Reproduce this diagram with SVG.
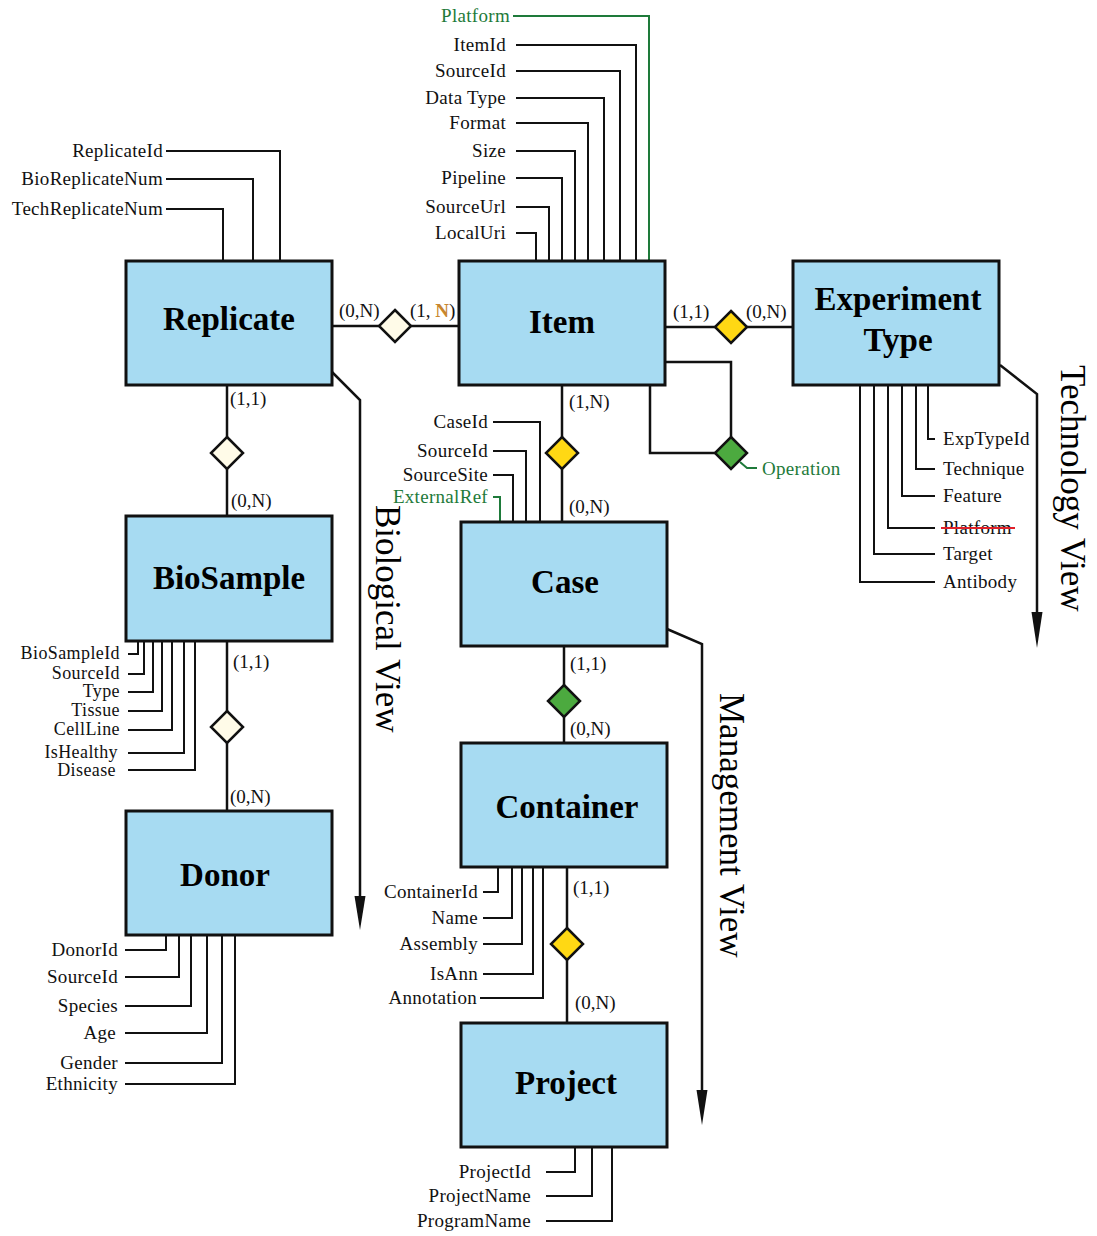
<svg xmlns="http://www.w3.org/2000/svg" width="1097" height="1236" viewBox="0 0 1097 1236">
  <style>
    .ent { fill: #A7DBF2; stroke: #111; stroke-width: 3; }
    .title { font-family: "Liberation Serif", "Times New Roman", serif; font-weight: bold; font-size: 33px; text-anchor: middle; fill: #000; }
    .attr { font-family: "Liberation Serif", "Times New Roman", serif; font-size: 19px; letter-spacing: 0.3px; fill: #111; }
    .tight { font-size: 18px; letter-spacing: 0.4px; }
    .r { text-anchor: end; }
    .card { font-family: "Liberation Serif", "Times New Roman", serif; font-size: 19px; fill: #111; }
    .view { font-family: "Liberation Serif", "Times New Roman", serif; font-size: 35px; fill: #000; }
    .green { fill: #1E7A3A; }
    .rel { fill: none; stroke: #111; stroke-width: 2.5; }
    .al { fill: none; stroke: #111; stroke-width: 2; }
    .gl { fill: none; stroke: #1E7A3A; stroke-width: 2; }
    .dm { stroke: #111; stroke-width: 2.5; }
    .cream { fill: #FFFBE8; }
    .yellow { fill: #FFD814; }
    .leaf { fill: #4CAA3F; }
  </style>

  <!-- connectors: relationships, attribute leaders, view arrows -->
  <g id="connectors">
    <!-- relationship lines -->
    <path class="rel" d="M332 326H459"/>
    <path class="rel" d="M665 327H793"/>
    <path class="rel" d="M227 385V516"/>
    <path class="rel" d="M227 641V811"/>
    <path class="rel" d="M562 385V522"/>
    <path class="rel" d="M564 646V743"/>
    <path class="rel" d="M567 867V1023"/>
    <path class="rel" d="M665 362H731V453"/>
    <path class="rel" d="M650 385V453H731"/>

    <!-- Replicate attributes -->
    <path class="al" d="M166 151H280V261"/>
    <path class="al" d="M166 179H253V261"/>
    <path class="al" d="M166 209H223V261"/>

    <!-- Item attributes -->
    <path class="gl" d="M513 16H649V261"/>
    <path class="al" d="M516 45H636V261"/>
    <path class="al" d="M516 71H620V261"/>
    <path class="al" d="M516 98H604V261"/>
    <path class="al" d="M516 123H588V261"/>
    <path class="al" d="M516 151H575V261"/>
    <path class="al" d="M516 178H562V261"/>
    <path class="al" d="M516 207H549V261"/>
    <path class="al" d="M516 233H536V261"/>

    <!-- Experiment Type attributes -->
    <path class="al" d="M928 385V439H935"/>
    <path class="al" d="M916 385V469H935"/>
    <path class="al" d="M902 385V496H935"/>
    <path class="al" d="M888 385V528H935"/>
    <path class="al" d="M874 385V554H935"/>
    <path class="al" d="M860 385V582H935"/>

    <!-- Case attributes -->
    <path class="al" d="M493 422H540V522"/>
    <path class="al" d="M493 451H526V522"/>
    <path class="al" d="M493 475H513V522"/>
    <path class="gl" d="M493 497H500V522"/>

    <!-- BioSample attributes -->
    <path class="al" d="M128 654H138V641"/>
    <path class="al" d="M128 674H144V641"/>
    <path class="al" d="M128 692H153V641"/>
    <path class="al" d="M128 711H162V641"/>
    <path class="al" d="M128 730H172V641"/>
    <path class="al" d="M128 753H184V641"/>
    <path class="al" d="M128 770H195V641"/>

    <!-- Donor attributes -->
    <path class="al" d="M125 950H166V935"/>
    <path class="al" d="M125 977H179V935"/>
    <path class="al" d="M125 1006H191V935"/>
    <path class="al" d="M125 1033H207V935"/>
    <path class="al" d="M125 1063H222V935"/>
    <path class="al" d="M125 1084H235V935"/>

    <!-- Container attributes -->
    <path class="al" d="M483 892H498V867"/>
    <path class="al" d="M483 918H512V867"/>
    <path class="al" d="M483 944H522V867"/>
    <path class="al" d="M483 974H533V867"/>
    <path class="al" d="M480 998H543V867"/>

    <!-- Project attributes -->
    <path class="al" d="M546 1172H575V1147"/>
    <path class="al" d="M546 1196H592V1147"/>
    <path class="al" d="M546 1221H612V1147"/>

    <!-- Operation tag -->
    <path class="gl" d="M740 462L747 468H757"/>

    <!-- view arrows -->
    <path class="rel" d="M332 372L360 400V898"/>
    <polygon points="354.5,896 365.5,896 360,930" fill="#111"/>
    <path class="rel" d="M667 629L702 644V1092"/>
    <polygon points="696.5,1090 707.5,1090 702,1125" fill="#111"/>
    <path class="rel" d="M1000 365L1037 394V614"/>
    <polygon points="1031.5,612 1042.5,612 1037,648" fill="#111"/>
  </g>

  <!-- relationship diamonds -->
  <g id="rel-replicate-item"><polygon class="dm cream" points="395,310 411,326 395,342 379,326"/></g>
  <g id="rel-item-experiment"><polygon class="dm yellow" points="731,311 747,327 731,343 715,327"/></g>
  <g id="rel-replicate-biosample"><polygon class="dm cream" points="227,437 243,453 227,469 211,453"/></g>
  <g id="rel-biosample-donor"><polygon class="dm cream" points="227,711 243,727 227,743 211,727"/></g>
  <g id="rel-item-case"><polygon class="dm yellow" points="562,437 578,453 562,469 546,453"/></g>
  <g id="rel-operation"><polygon class="dm leaf" points="731,437 747,453 731,469 715,453"/>
    <text class="attr green" x="762" y="475">Operation</text></g>
  <g id="rel-case-container"><polygon class="dm leaf" points="564,685 580,701 564,717 548,701"/></g>
  <g id="rel-container-project"><polygon class="dm yellow" points="567,928 583,944 567,960 551,944"/></g>

  <!-- cardinalities -->
  <g id="cardinalities" class="card">
    <text x="339" y="317">(0,N)</text>
    <text x="410" y="317">(1, <tspan fill="#C8862E" font-weight="bold">N</tspan>)</text>
    <text x="673" y="318">(1,1)</text>
    <text x="746" y="318">(0,N)</text>
    <text x="230" y="405">(1,1)</text>
    <text x="231" y="507">(0,N)</text>
    <text x="233" y="668">(1,1)</text>
    <text x="230" y="803">(0,N)</text>
    <text x="569" y="408">(1,N)</text>
    <text x="569" y="513">(0,N)</text>
    <text x="570" y="670">(1,1)</text>
    <text x="570" y="735">(0,N)</text>
    <text x="573" y="894">(1,1)</text>
    <text x="575" y="1009">(0,N)</text>
  </g>

  <!-- entities -->
  <g id="replicate">
    <rect class="ent" x="126" y="261" width="206" height="124"/>
    <text class="title" x="229" y="330">Replicate</text>
    <text class="attr r" x="163" y="157">ReplicateId</text>
    <text class="attr r" x="163" y="185">BioReplicateNum</text>
    <text class="attr r" x="163" y="215">TechReplicateNum</text>
  </g>

  <g id="item">
    <rect class="ent" x="459" y="261" width="206" height="124"/>
    <text class="title" x="562" y="333">Item</text>
    <text class="attr r green" x="510" y="22">Platform</text>
    <text class="attr r" x="506" y="51">ItemId</text>
    <text class="attr r" x="506" y="77">SourceId</text>
    <text class="attr r" x="506" y="104">Data Type</text>
    <text class="attr r" x="506" y="129">Format</text>
    <text class="attr r" x="506" y="157">Size</text>
    <text class="attr r" x="506" y="184">Pipeline</text>
    <text class="attr r" x="506" y="213">SourceUrl</text>
    <text class="attr r" x="506" y="239">LocalUri</text>
  </g>

  <g id="experiment-type">
    <rect class="ent" x="793" y="261" width="206" height="124"/>
    <text class="title" x="898" y="310">Experiment</text>
    <text class="title" x="898" y="351">Type</text>
    <text class="attr" x="943" y="445">ExpTypeId</text>
    <text class="attr" x="943" y="475">Technique</text>
    <text class="attr" x="943" y="502">Feature</text>
    <text class="attr" x="943" y="534">Platform</text>
    <line x1="941" y1="528" x2="1015" y2="528" stroke="#E0202A" stroke-width="2"/>
    <text class="attr" x="943" y="560">Target</text>
    <text class="attr" x="943" y="588">Antibody</text>
  </g>

  <g id="biosample">
    <rect class="ent" x="126" y="516" width="206" height="125"/>
    <text class="title" x="229" y="589">BioSample</text>
    <text class="attr tight r" x="120" y="659">BioSampleId</text>
    <text class="attr tight r" x="120" y="679">SourceId</text>
    <text class="attr tight r" x="120" y="697">Type</text>
    <text class="attr tight r" x="120" y="716">Tissue</text>
    <text class="attr tight r" x="120" y="735">CellLine</text>
    <text class="attr tight r" x="118" y="758">IsHealthy</text>
    <text class="attr tight r" x="116" y="776">Disease</text>
  </g>

  <g id="donor">
    <rect class="ent" x="126" y="811" width="206" height="124"/>
    <text class="title" x="225" y="886">Donor</text>
    <text class="attr r" x="118" y="956">DonorId</text>
    <text class="attr r" x="118" y="983">SourceId</text>
    <text class="attr r" x="118" y="1012">Species</text>
    <text class="attr r" x="116" y="1039">Age</text>
    <text class="attr r" x="118" y="1069">Gender</text>
    <text class="attr r" x="118" y="1090">Ethnicity</text>
  </g>

  <g id="case">
    <rect class="ent" x="461" y="522" width="206" height="124"/>
    <text class="title" x="565" y="593">Case</text>
    <text class="attr r" x="488" y="428">CaseId</text>
    <text class="attr r" x="488" y="457">SourceId</text>
    <text class="attr r" x="488" y="481">SourceSite</text>
    <text class="attr r green" x="488" y="503">ExternalRef</text>
  </g>

  <g id="container">
    <rect class="ent" x="461" y="743" width="206" height="124"/>
    <text class="title" x="567" y="818">Container</text>
    <text class="attr r" x="478" y="898">ContainerId</text>
    <text class="attr r" x="478" y="924">Name</text>
    <text class="attr r" x="478" y="950">Assembly</text>
    <text class="attr r" x="478" y="980">IsAnn</text>
    <text class="attr r" x="477" y="1004">Annotation</text>
  </g>

  <g id="project">
    <rect class="ent" x="461" y="1023" width="206" height="124"/>
    <text class="title" x="566" y="1094">Project</text>
    <text class="attr r" x="531" y="1178">ProjectId</text>
    <text class="attr r" x="531" y="1202">ProjectName</text>
    <text class="attr r" x="531" y="1227">ProgramName</text>
  </g>

  <!-- view labels -->
  <g id="views">
    <text class="view" transform="translate(376 505) rotate(90)">Biological View</text>
    <text class="view" transform="translate(720 693) rotate(90)">Management View</text>
    <text class="view" transform="translate(1061 365) rotate(90)">Technology View</text>
  </g>
</svg>
